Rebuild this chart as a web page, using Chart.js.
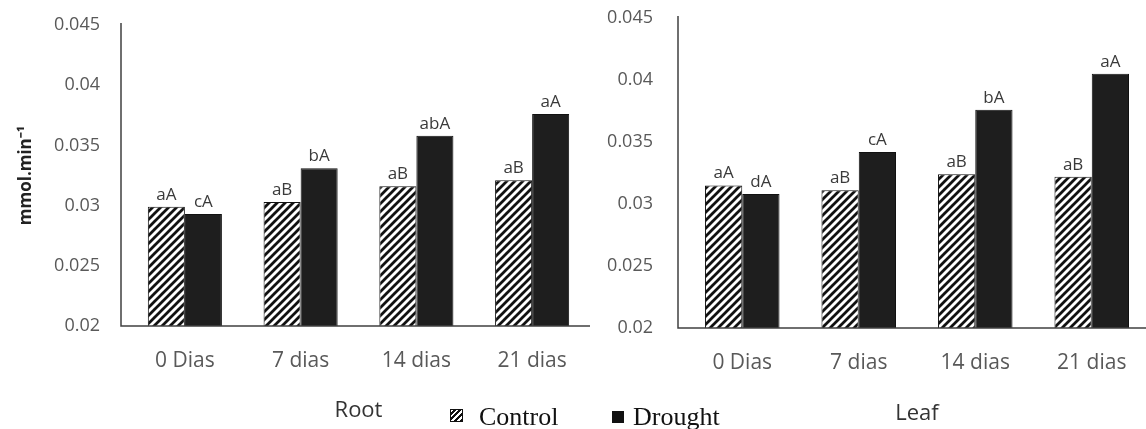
<!DOCTYPE html>
<html>
<head>
<meta charset="utf-8">
<script src="https://cdn.jsdelivr.net/npm/chart.js@4"></script>
<style>
  html, body { margin:0; padding:0; background:#fff; overflow:hidden; }
  #wrap { position:relative; width:1146px; height:429px; overflow:hidden; }
  #root-box { position:absolute; left:0; top:0; width:590px; height:429px; }
  #leaf-box { position:absolute; left:590px; top:0; width:560px; height:429px; }
  .lg-icon { position:absolute; box-sizing:border-box; border:1px solid #111; }
  .lg-text { position:absolute; font-family:"Liberation Serif", serif; font-size:26px; line-height:26px; color:#111; white-space:nowrap; }
</style>
</head>
<body>
<div id="wrap">
  <div id="root-box"><canvas id="chart-root"></canvas></div>
  <div id="leaf-box"><canvas id="chart-leaf"></canvas></div>
  <div class="lg-icon" style="left:450px;top:409px;width:13px;height:13px;background:repeating-linear-gradient(-45deg,#111 0 2px,#fff 2px 4px)"></div>
  <div class="lg-text" style="left:479px;top:404px">Control</div>
  <div class="lg-icon" style="left:612px;top:411px;width:12px;height:12px;background:#111"></div>
  <div class="lg-text" style="left:633px;top:404px">Drought</div>
</div>
<script>
// ── Data ──────────────────────────────────────────────────────────────────────
const categories = ['0 Dias', '7 dias', '14 dias', '21 dias'];

const rootControl = [0.0299, 0.0303, 0.0316, 0.0321];
const rootDrought = [0.0293, 0.0331, 0.0358, 0.0376];
const rootControlLetters = ['aA', 'aB', 'aB', 'aB'];
const rootDroughtLetters = ['cA', 'bA', 'abA', 'aA'];

const leafControl = [0.0315, 0.0311, 0.0324, 0.0322];
const leafDrought = [0.0308, 0.0342, 0.0376, 0.0405];
const leafControlLetters = ['aA', 'aB', 'aB', 'aB'];
const leafDroughtLetters = ['dA', 'cA', 'bA', 'aA'];

const yMin = 0.02, yMax = 0.045, yStep = 0.005;
const yTitle = 'mmol.min\u207B\u00B9';

// ── Helpers ───────────────────────────────────────────────────────────────────
function hatchPattern() {
  const c = document.createElement('canvas');
  c.width = 8; c.height = 8;
  const g = c.getContext('2d');
  g.fillStyle = '#fff';
  g.fillRect(0, 0, 8, 8);
  g.strokeStyle = '#111';
  g.lineWidth = 2.8;
  g.beginPath();
  g.moveTo(-2, 10); g.lineTo(10, -2);
  g.moveTo(-6, 6);  g.lineTo(6, -6);
  g.moveTo(2, 14);  g.lineTo(14, 2);
  g.stroke();
  return g.createPattern(c, 'repeat');
}

// axis lines (slightly left of the category area, as in the original) + letters over bars
const axisAndLetters = {
  id: 'axisAndLetters',
  afterDatasetsDraw(chart) {
    const { ctx, chartArea: a } = chart;
    const o = chart.options.plugins.axisAndLetters;
    ctx.save();
    ctx.strokeStyle = '#404040';
    ctx.lineWidth = 1.5;
    ctx.beginPath();
    ctx.moveTo(a.left - o.axisShift, a.top - 2);
    ctx.lineTo(a.left - o.axisShift, a.bottom);
    ctx.lineTo(a.right, a.bottom);
    ctx.stroke();

    ctx.font = '17px "Open Sans"';
    ctx.fillStyle = '#3a3a3a';
    ctx.textAlign = 'center';
    ctx.textBaseline = 'alphabetic';
    chart.data.datasets.forEach((ds, i) => {
      chart.getDatasetMeta(i).data.forEach((bar, j) => {
        ctx.fillText(ds.letters[j], bar.x, bar.y - 7);
      });
    });
    ctx.restore();
  }
};

function makeChart(id, title, control, drought, ctrlLetters, drLetters, lay) {
  const ctx = document.getElementById(id).getContext('2d');
  return new Chart(ctx, {
    type: 'bar',
    data: {
      labels: categories,
      datasets: [
        { label: 'Control', data: control, letters: ctrlLetters,
          backgroundColor: hatchPattern(), borderColor: '#111', borderWidth: 1 },
        { label: 'Drought', data: drought, letters: drLetters,
          backgroundColor: '#1e1e1e', borderColor: '#111', borderWidth: 1 }
      ]
    },
    options: {
      responsive: true,
      maintainAspectRatio: false,
      animation: false,
      layout: { padding: { top: lay.top, right: 0, bottom: lay.bottom, left: 0 } },
      datasets: { bar: { categoryPercentage: 0.64, barPercentage: 1.0 } },
      plugins: {
        legend: { display: false },
        tooltip: { enabled: false },
        axisAndLetters: { axisShift: 6 }
      },
      scales: {
        x: {
          grid: { display: false, drawTicks: false },
          border: { display: false },
          ticks: { color: '#595959', font: { family: 'Open Sans', size: 21 }, padding: 22 },
          title: { display: true, text: title, color: '#333', font: { family: 'Open Sans', size: 22 },
                   padding: { top: 0, bottom: 0 } },
          afterFit: s => { s.height = lay.xh; }
        },
        y: {
          min: yMin, max: yMax,
          // invisible tick marks give the label gap (tick padding would also push the plot down)
          grid: { display: true, drawOnChartArea: false, drawTicks: true,
                  tickLength: lay.tickGap, tickColor: 'rgba(0,0,0,0)' },
          border: { display: false },
          ticks: { stepSize: yStep, color: '#595959', font: { family: 'Open Sans', size: 18 },
                   padding: 0, callback: v => String(+v.toFixed(3)) },
          title: { display: lay.showTitle, text: yTitle, color: '#222',
                   font: { family: 'Open Sans', size: 17, weight: 'bold' }, padding: { top: 16, bottom: 0 } },
          afterFit: s => { s.width = lay.yw; }
        }
      }
    },
    plugins: [axisAndLetters]
  });
}

makeChart('chart-root', 'Root', rootControl, rootDrought, rootControlLetters, rootDroughtLetters,
  { top: 25, bottom: 5, xh: 98, yw: 127, tickGap: 27, showTitle: true });
makeChart('chart-leaf', 'Leaf', leafControl, leafDrought, leafControlLetters, leafDroughtLetters,
  { top: 18, bottom: 2, xh: 99, yw: 94, tickGap: 31, showTitle: false });
</script>
</body>
</html>
